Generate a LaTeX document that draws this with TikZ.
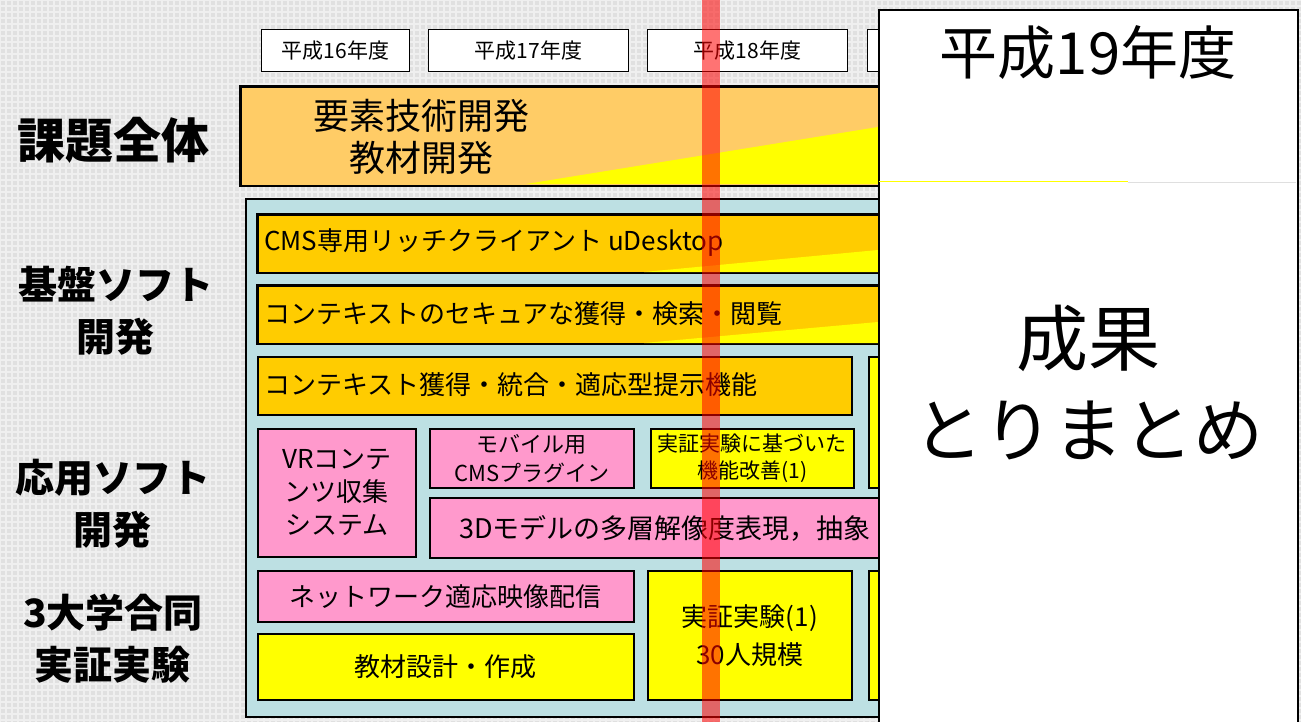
\documentclass[tikz,border=0pt]{standalone}
\usepackage{fontspec}
\setmainfont{Noto Sans CJK JP}
\definecolor{bgC}{HTML}{E0E0E0}
\definecolor{gridC}{HTML}{EFEFEF}
\definecolor{bandC}{HTML}{FFCC66}
\definecolor{orgC}{HTML}{FFCC00}
\definecolor{yelC}{HTML}{FFFF00}
\definecolor{pinkC}{HTML}{FF99CC}
\definecolor{blueC}{HTML}{BDE0E3}
\newcommand{\fsz}[2]{\fontsize{#1}{#2}\selectfont}
\tikzset{
  bx/.style={draw=black, line width=1.6pt, anchor=north west, inner sep=0pt},
  yr/.style={bx, fill=white, line width=1.2pt, font=\fsz{21}{24}},
  lbl/.style={align=center, inner sep=0pt, font=\bfseries\fsz{39}{52}},
  rowtxt/.style={anchor=west, inner sep=0pt, font=\fsz{26}{30}},
  boxtxt/.style={align=center, font=\fsz{26}{33}},
}
\begin{document}
\begin{tikzpicture}[x=1pt,y=-1pt]
\useasboundingbox (0,0) rectangle (1301,722);
% background
\fill[bgC] (0,0) rectangle (1301,722);
\foreach \i in {0,6,...,1300} \draw[gridC, line width=1.2pt] (\i,0) -- (\i,722);
\foreach \j in {0,6,...,720} \draw[gridC, line width=1.2pt] (0,\j) -- (1301,\j);
% year boxes
\node[yr, minimum width=148, minimum height=42] (y16) at (261,29) {平成16年度};
\node[yr, minimum width=200, minimum height=42] (y17) at (428,29) {平成17年度};
\node[yr, minimum width=200, minimum height=42] (y18) at (647,29) {平成18年度};
\node[yr, minimum width=200, minimum height=42] (y19) at (867,29) {};
% band
\node[bx, fill=bandC, minimum width=800, minimum height=99] (band) at (240,86) {};
\fill[yelC] (526,184) -- (878,127) -- (1040,101) -- (1040,184) -- cycle;
\draw[black, line width=1.6pt] (band.north west) rectangle (band.south east);
\node[font=\fsz{36}{42}] (t1) at (421,116) {要素技術開発};
\node[font=\fsz{36}{42}] (t2) at (421,158) {教材開発};
% container
\node[bx, fill=blueC, minimum width=800, minimum height=518] (cont) at (245,198) {};
% row 1
\node[bx, fill=orgC, minimum width=760, minimum height=58] (r1) at (257,214) {};
\fill[yelC] (644,272) -- (878,250) -- (1017,237) -- (1017,272) -- cycle;
\draw[black, line width=1.6pt] (r1.north west) rectangle (r1.south east);
\node[rowtxt] (r1t) at (264,243) {CMS専用リッチクライアント uDesktop};
% row 2
\node[bx, fill=orgC, minimum width=760, minimum height=58] (r2) at (257,285) {};
\fill[yelC] (644,343) -- (878,322) -- (1017,309) -- (1017,343) -- cycle;
\draw[black, line width=1.6pt] (r2.north west) rectangle (r2.south east);
\node[rowtxt] (r2t) at (264,314) {コンテキストのセキュアな獲得・検索・閲覧};
% row 3
\node[bx, fill=orgC, minimum width=594, minimum height=58] (r3) at (257,356) {};
\node[rowtxt] (r3t) at (264,385) {コンテキスト獲得・統合・適応型提示機能};
\node[bx, fill=yelC, minimum width=150, minimum height=131] (r3b) at (868,356) {};
% row 4
\node[bx, fill=pinkC, minimum width=158, minimum height=128, boxtxt] (vr) at (257,428) {VRコンテ\\ンツ収集\\システム};
\node[bx, fill=pinkC, minimum width=204, minimum height=59, align=center, font=\fsz{22}{29}] (mob) at (429,428) {モバイル用\\CMSプラグイン};
\node[bx, fill=yelC, minimum width=203, minimum height=59, align=center, font=\fsz{21}{27}] (jis) at (650,428) {実証実験に基づいた\\機能改善(1)};
\node[bx, fill=pinkC, minimum width=600, minimum height=60] (d3) at (429,497) {};
\node[rowtxt, font=\fsz{27}{30}] (d3t) at (459,528) {3Dモデルの多層解像度表現，抽象};
% row 5
\node[bx, fill=pinkC, minimum width=376, minimum height=51, font=\fsz{26}{30}] (net) at (257,570) {ネットワーク適応映像配信};
\node[bx, fill=yelC, minimum width=376, minimum height=66, font=\fsz{26}{30}] (kyo) at (257,633) {教材設計・作成};
\node[bx, fill=yelC, minimum width=204, minimum height=129, align=center, font=\fsz{26}{38}] (jik) at (647,570) {実証実験(1)\\30人規模};
\node[bx, fill=yelC, minimum width=150, minimum height=129] (r5b) at (868,570) {};
% red translucent bar
\fill[red, opacity=0.55] (702,0) rectangle (720,722);
% right panel
\node[bx, fill=white, minimum width=419, minimum height=730] (panel) at (878,9) {};
\draw[yelC, line width=1pt] (879,182) -- (1128,182);
\draw[gray!25, line width=0.8pt] (1128,182) -- (1296,182);
\node[font=\fsz{58}{64}] (h19) at (1088,53) {平成19年度};
\node[font=\fsz{72}{80}] (s1) at (1088,338) {成果};
\node[font=\fsz{70}{80}] (s2) at (1088,430) {とりまとめ};
% left labels
\node[lbl, font=\bfseries\fsz{48}{52}] (L1) at (113,140) {課題全体};
\node[lbl] (L2) at (116,311) {基盤ソフト\\開発};
\node[lbl] (L3) at (113,504) {応用ソフト\\開発};
\node[lbl] (L4) at (113,639) {3大学合同\\実証実験};
\end{tikzpicture}
\end{document}
